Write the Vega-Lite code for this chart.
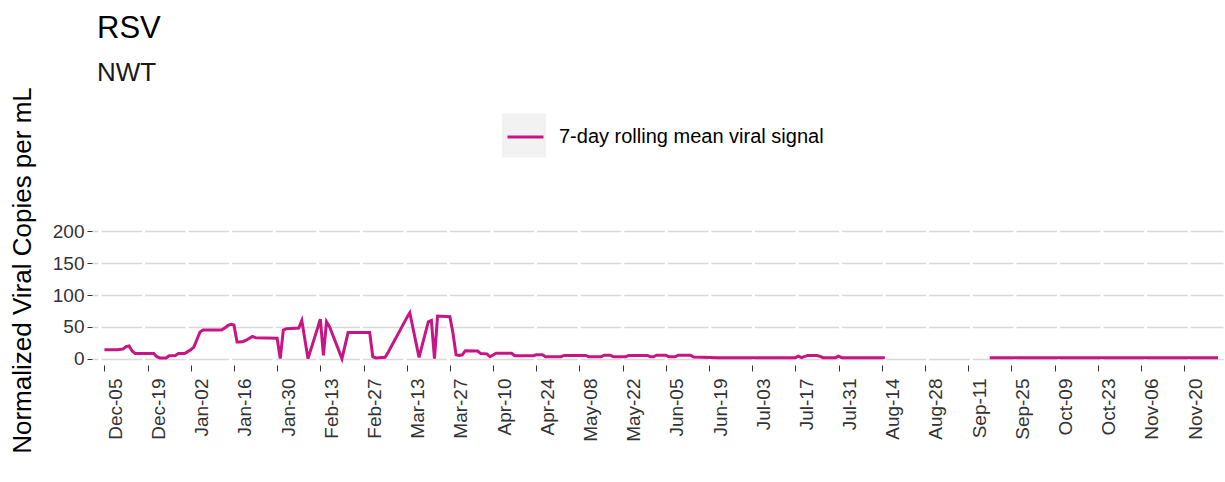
{
  "$schema": "https://vega.github.io/schema/vega-lite/v6.json",
  "width": 1131,
  "height": 140,
  "autosize": {"type": "none"},
  "padding": {"left": 92, "top": 225, "right": 2, "bottom": 117},
  "background": "white",
  "config": {"view": {"stroke": null}, "font": "Liberation Sans"},
  "title": {
    "text": "RSV",
    "subtitle": "NWT",
    "anchor": "start",
    "frame": "group",
    "dx": 5,
    "fontSize": 31,
    "subtitleFontSize": 26,
    "font": "Liberation Sans",
    "subtitleFont": "Liberation Sans",
    "fontWeight": "normal",
    "color": "#000000",
    "subtitleColor": "#1a1a1a",
    "subtitlePadding": 15,
    "offset": 0
  },
  "data": {
    "values": [
      {"date": "2022-12-05", "value": 14},
      {"date": "2022-12-07", "value": 14},
      {"date": "2022-12-09", "value": 14},
      {"date": "2022-12-11", "value": 15},
      {"date": "2022-12-12", "value": 19},
      {"date": "2022-12-13", "value": 20},
      {"date": "2022-12-14", "value": 12},
      {"date": "2022-12-15", "value": 8},
      {"date": "2022-12-21", "value": 8},
      {"date": "2022-12-22", "value": 3},
      {"date": "2022-12-23", "value": 1},
      {"date": "2022-12-25", "value": 1},
      {"date": "2022-12-26", "value": 4.5},
      {"date": "2022-12-28", "value": 5},
      {"date": "2022-12-29", "value": 8},
      {"date": "2022-12-31", "value": 8},
      {"date": "2023-01-01", "value": 11},
      {"date": "2023-01-02", "value": 14},
      {"date": "2023-01-03", "value": 18},
      {"date": "2023-01-04", "value": 30},
      {"date": "2023-01-05", "value": 42},
      {"date": "2023-01-06", "value": 45},
      {"date": "2023-01-12", "value": 45},
      {"date": "2023-01-13", "value": 48},
      {"date": "2023-01-14", "value": 52},
      {"date": "2023-01-15", "value": 54},
      {"date": "2023-01-16", "value": 53},
      {"date": "2023-01-17", "value": 26},
      {"date": "2023-01-18", "value": 26},
      {"date": "2023-01-19", "value": 27},
      {"date": "2023-01-20", "value": 29},
      {"date": "2023-01-21", "value": 32},
      {"date": "2023-01-22", "value": 35},
      {"date": "2023-01-23", "value": 33},
      {"date": "2023-01-30", "value": 32},
      {"date": "2023-01-31", "value": 0},
      {"date": "2023-02-01", "value": 45},
      {"date": "2023-02-02", "value": 47},
      {"date": "2023-02-06", "value": 48},
      {"date": "2023-02-07", "value": 60},
      {"date": "2023-02-09", "value": 0},
      {"date": "2023-02-13", "value": 62},
      {"date": "2023-02-14", "value": 5},
      {"date": "2023-02-15", "value": 58},
      {"date": "2023-02-16", "value": 50},
      {"date": "2023-02-20", "value": 0},
      {"date": "2023-02-22", "value": 41},
      {"date": "2023-03-01", "value": 41},
      {"date": "2023-03-02", "value": 3},
      {"date": "2023-03-03", "value": 1},
      {"date": "2023-03-06", "value": 2},
      {"date": "2023-03-07", "value": 10},
      {"date": "2023-03-08", "value": 19},
      {"date": "2023-03-09", "value": 28},
      {"date": "2023-03-10", "value": 37},
      {"date": "2023-03-11", "value": 46},
      {"date": "2023-03-12", "value": 55},
      {"date": "2023-03-13", "value": 64},
      {"date": "2023-03-14", "value": 72},
      {"date": "2023-03-17", "value": 2},
      {"date": "2023-03-20", "value": 58},
      {"date": "2023-03-21", "value": 60},
      {"date": "2023-03-22", "value": 0},
      {"date": "2023-03-23", "value": 67},
      {"date": "2023-03-27", "value": 66},
      {"date": "2023-03-28", "value": 40},
      {"date": "2023-03-29", "value": 6},
      {"date": "2023-03-30", "value": 5},
      {"date": "2023-03-31", "value": 6},
      {"date": "2023-04-01", "value": 12.5},
      {"date": "2023-04-05", "value": 12},
      {"date": "2023-04-06", "value": 8},
      {"date": "2023-04-08", "value": 7.5},
      {"date": "2023-04-09", "value": 3},
      {"date": "2023-04-11", "value": 8.5},
      {"date": "2023-04-16", "value": 8.5},
      {"date": "2023-04-17", "value": 4.7},
      {"date": "2023-04-23", "value": 4.7},
      {"date": "2023-04-24", "value": 6},
      {"date": "2023-04-26", "value": 6},
      {"date": "2023-04-27", "value": 3},
      {"date": "2023-05-02", "value": 3},
      {"date": "2023-05-03", "value": 5},
      {"date": "2023-05-10", "value": 5},
      {"date": "2023-05-11", "value": 3},
      {"date": "2023-05-15", "value": 3},
      {"date": "2023-05-16", "value": 5.5},
      {"date": "2023-05-18", "value": 5.5},
      {"date": "2023-05-19", "value": 3},
      {"date": "2023-05-23", "value": 3},
      {"date": "2023-05-24", "value": 5},
      {"date": "2023-05-30", "value": 5},
      {"date": "2023-05-31", "value": 3},
      {"date": "2023-06-01", "value": 3},
      {"date": "2023-06-02", "value": 5.5},
      {"date": "2023-06-05", "value": 5.5},
      {"date": "2023-06-06", "value": 3},
      {"date": "2023-06-08", "value": 3},
      {"date": "2023-06-09", "value": 5.5},
      {"date": "2023-06-13", "value": 5.5},
      {"date": "2023-06-14", "value": 2.5},
      {"date": "2023-06-22", "value": 1.5},
      {"date": "2023-07-17", "value": 1.5},
      {"date": "2023-07-18", "value": 4},
      {"date": "2023-07-19", "value": 1.5},
      {"date": "2023-07-21", "value": 5},
      {"date": "2023-07-24", "value": 5},
      {"date": "2023-07-25", "value": 3.5},
      {"date": "2023-07-26", "value": 1.5},
      {"date": "2023-07-30", "value": 1.5},
      {"date": "2023-07-31", "value": 4},
      {"date": "2023-08-01", "value": 1.5},
      {"date": "2023-08-15", "value": 1.5},
      {"date": "2023-09-01", "value": null},
      {"date": "2023-09-18", "value": 1.5},
      {"date": "2023-10-09", "value": 1.5},
      {"date": "2023-10-30", "value": 1.5},
      {"date": "2023-11-20", "value": 1.5},
      {"date": "2023-12-01", "value": 1.5}
    ]
  },
  "layer": [
    {
      "mark": {"type": "bar"},
      "encoding": {
        "x": {"field": "date", "type": "temporal"},
        "y": {"datum": 0},
        "y2": {"datum": 0},
        "fill": {
          "datum": "key",
          "scale": {"range": ["#F2F2F2"]},
          "legend": {
            "title": null,
            "orient": "none",
            "legendX": 410,
            "legendY": -111.5,
            "symbolType": "square",
            "symbolSize": 1936,
            "symbolStrokeWidth": 0,
            "symbolOpacity": 1,
            "labelExpr": "''",
            "padding": 0
          }
        }
      }
    },
    {
      "mark": {"type": "line", "strokeWidth": 3, "invalid": "break-paths-show-domains"},
      "encoding": {
        "x": {
          "field": "date",
          "type": "temporal",
          "scale": {"type": "utc", "domain": [1669991040000, 1701388800000]},
          "axis": {
            "title": null,
            "values": [1670198400000, 1671408000000, 1672617600000, 1673827200000, 1675036800000, 1676246400000, 1677456000000, 1678665600000, 1679875200000, 1681084800000, 1682294400000, 1683504000000, 1684713600000, 1685923200000, 1687132800000, 1688342400000, 1689552000000, 1690761600000, 1691971200000, 1693180800000, 1694390400000, 1695600000000, 1696809600000, 1698019200000, 1699228800000, 1700438400000],
            "tickCount": 26,
            "labelExpr": "utcFormat(datum.value, '%b-%d')",
            "labelAngle": 270,
            "labelAlign": "right",
            "labelBaseline": "top",
            "labelOffset": 2,
            "labelPadding": 7,
            "labelFontSize": 19,
            "labelColor": "#333333",
            "labelFont": "Liberation Sans",
            "labelOverlap": false,
            "labelBound": false,
            "labelFlush": false,
            "tickSize": 6,
            "tickColor": "#333333",
            "tickWidth": 1,
            "domain": false,
            "grid": false
          }
        },
        "y": {
          "field": "value",
          "type": "quantitative",
          "scale": {"domain": [-10, 210], "nice": false, "zero": false},
          "axis": {
            "title": "Normalized Viral Copies per mL",
            "values": [0, 50, 100, 150, 200],
            "tickCount": 5,
            "labelOverlap": false,
            "titleFontSize": 26,
            "titleFont": "Liberation Sans",
            "titleFontWeight": "normal",
            "titleColor": "#000000",
            "titleX": -62,
            "titleY": 45,
            "titleAngle": 270,
            "titleAlign": "center",
            "titleBaseline": "alphabetic",
            "labelFontSize": 19,
            "labelFont": "Liberation Sans",
            "labelColor": "#333333",
            "labelPadding": 3,
            "tickSize": 5,
            "tickColor": "#333333",
            "domain": false,
            "grid": true,
            "gridColor": "#D9D9D9",
            "gridWidth": 1.5,
            "gridDash": [40.57, 3],
            "gridDashOffset": 34.6
          }
        },
        "stroke": {
          "datum": "7-day rolling mean viral signal",
          "scale": {"range": ["#C71585"]},
          "legend": {
            "title": null,
            "orient": "none",
            "legendX": 414,
            "legendY": -107.5,
            "symbolType": "stroke",
            "symbolSize": 1296,
            "symbolStrokeWidth": 3,
            "labelFontSize": 20,
            "labelFont": "Liberation Sans",
            "labelColor": "#000000",
            "labelOffset": 14,
            "labelLimit": 500,
            "padding": 0
          }
        }
      }
    }
  ]
}
